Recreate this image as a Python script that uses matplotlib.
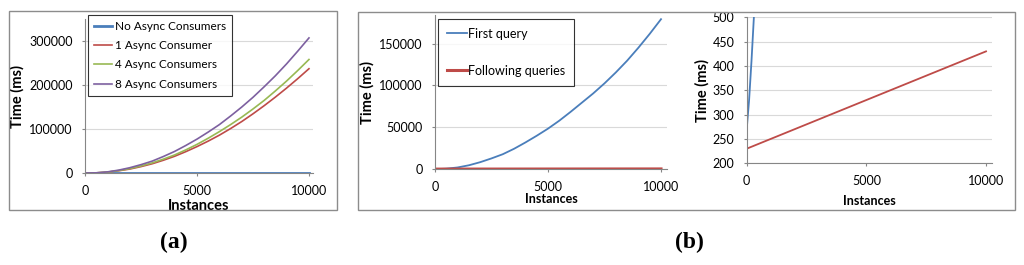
import matplotlib.pyplot as plt
from matplotlib.patches import Rectangle

# panel (a): consumers
instances = [0, 500, 1000, 1500, 2000, 2500, 3000, 3500, 4000, 4500, 5000,
             5500, 6000, 6500, 7000, 7500, 8000, 8500, 9000, 9500, 10000]
no_async = [500] * len(instances)
async_1 = [0, 300, 2000, 5000, 9000, 14500, 21000, 29000, 38000, 48500, 60000,
           72500, 86000, 101000, 117000, 134500, 153000, 172500, 193000, 214500, 237000]
async_4 = [0, 300, 2000, 5500, 10000, 16000, 23000, 31500, 41000, 52500, 65000,
           79000, 94000, 110000, 127000, 145500, 165000, 186500, 209000, 233000, 258000]
async_8 = [0, 400, 2500, 6500, 12000, 19000, 27000, 37500, 49000, 62500, 77000,
           93000, 110000, 129500, 150000, 172000, 196000, 221000, 248000, 277000, 307000]

# panel (b): queries
first_x = [0, 100, 200, 300, 500, 1000, 1500, 2000, 2500, 3000, 3500, 4000, 4500, 5000,
           5500, 6000, 6500, 7000, 7500, 8000, 8500, 9000, 9500, 10000]
first_query = [270, 330, 410, 500, 750, 2200, 4800, 8500, 13000, 18000, 24500, 32000, 40000, 48500,
               58000, 68500, 79500, 90500, 102500, 115500, 129500, 145000, 161500, 179000]
following_x = [0, 10000]
following = [230, 430]

BLUE = '#4A7EBB'
RED = '#BE4B48'
GREEN = '#98B954'
PURPLE = '#7D60A0'
AXIS = '#868686'
GRID = '#D9D9D9'

plt.rcParams['font.family'] = ['Lato', 'DejaVu Sans']

W, H = 1024, 265
fig = plt.figure(figsize=(W / 100, H / 100), dpi=100)


def box(x0, top, x1, bottom):
    return [x0 / W, (H - bottom) / H, (x1 - x0) / W, (bottom - top) / H]


def style(ax):
    for s in ['top', 'right']:
        ax.spines[s].set_visible(False)
    for s in ['left', 'bottom']:
        ax.spines[s].set_color(AXIS)
        ax.spines[s].set_linewidth(0.8)
    ax.yaxis.grid(True, color=GRID, linewidth=0.8)
    ax.set_axisbelow(True)
    ax.tick_params(length=2.5, width=0.8, color=AXIS, labelsize=9, pad=6.5)
    ax.tick_params(axis='x', pad=6)


# frames
fig.patches.append(Rectangle((9 / W, (H - 210) / H), 328 / W, 199 / H,
                             transform=fig.transFigure, fill=False,
                             edgecolor='#8C8C8C', linewidth=1))
fig.patches.append(Rectangle((358 / W, (H - 210) / H), 657 / W, 198 / H,
                             transform=fig.transFigure, fill=False,
                             edgecolor='#8C8C8C', linewidth=1))

# (a)
ax = fig.add_axes(box(85, 19, 313, 173))
ax.plot(instances, no_async, color=BLUE, lw=2, label='No Async Consumers')
ax.plot(instances, async_1, color=RED, lw=1.2, label='1 Async Consumer')
ax.plot(instances, async_4, color=GREEN, lw=1.2, label='4 Async Consumers')
ax.plot(instances, async_8, color=PURPLE, lw=1.2, label='8 Async Consumers')
ax.set_xlim(0, 10180)
ax.set_ylim(0, 350000)
ax.set_xticks([0, 5000, 10000])
ax.set_yticks([0, 100000, 200000, 300000])
style(ax)
ax.set_xlabel('Instances', fontsize=10.5, fontweight='bold', labelpad=1.5)
ax.set_ylabel('Time (ms)', fontsize=10.5, fontweight='bold', labelpad=3)
leg = ax.legend(loc='upper left', bbox_to_anchor=(88 / W, (H - 15) / H),
                bbox_transform=fig.transFigure, fontsize=8.5, frameon=True,
                fancybox=False, borderaxespad=0, handlelength=1.5,
                handletextpad=0.3, labelspacing=0.7, borderpad=0.5)
leg.get_frame().set_edgecolor('black')
leg.get_frame().set_linewidth(0.8)

# (b) left
ax = fig.add_axes(box(435, 15, 667, 169.3))
ax.plot(first_x, first_query, color=BLUE, lw=1.3, label='First query')
ax.plot(following_x, following, color=RED, lw=2.2, label='Following queries')
ax.set_xlim(0, 10265)
ax.set_ylim(0, 184000)
ax.set_xticks([0, 5000, 10000])
ax.set_yticks([0, 50000, 100000, 150000])
style(ax)
ax.set_xlabel('Instances', fontsize=9, fontweight='bold', labelpad=0)
ax.set_ylabel('Time (ms)', fontsize=10.5, fontweight='bold', labelpad=3)
leg = ax.legend(loc='upper left', bbox_to_anchor=(438 / W, (H - 19) / H),
                bbox_transform=fig.transFigure, fontsize=9, frameon=True,
                fancybox=False, borderaxespad=0, handlelength=1.6,
                handletextpad=0.1, labelspacing=2.0, borderpad=0.7)
leg.get_frame().set_edgecolor('black')
leg.get_frame().set_linewidth(0.8)

# (b) right
ax = fig.add_axes(box(746.7, 17.3, 992, 163.3))
ax.plot(first_x, first_query, color=BLUE, lw=1.3)
ax.plot(following_x, following, color=RED, lw=1.3)
ax.set_xlim(0, 10250)
ax.set_ylim(200, 500)
ax.set_xticks([0, 5000, 10000])
ax.set_yticks([200, 250, 300, 350, 400, 450, 500])
style(ax)
ax.set_xlabel('Instances', fontsize=9, fontweight='bold', labelpad=6)
ax.set_ylabel('Time (ms)', fontsize=10.5, fontweight='bold', labelpad=2)

fig.text(174 / W, 1 - 242 / H, '(a)', family='Liberation Serif', fontweight='bold',
         fontsize=17, ha='center', va='center')
fig.text(689 / W, 1 - 242 / H, '(b)', family='Liberation Serif', fontweight='bold',
         fontsize=17, ha='center', va='center')

fig.savefig('out.png', dpi=100)
